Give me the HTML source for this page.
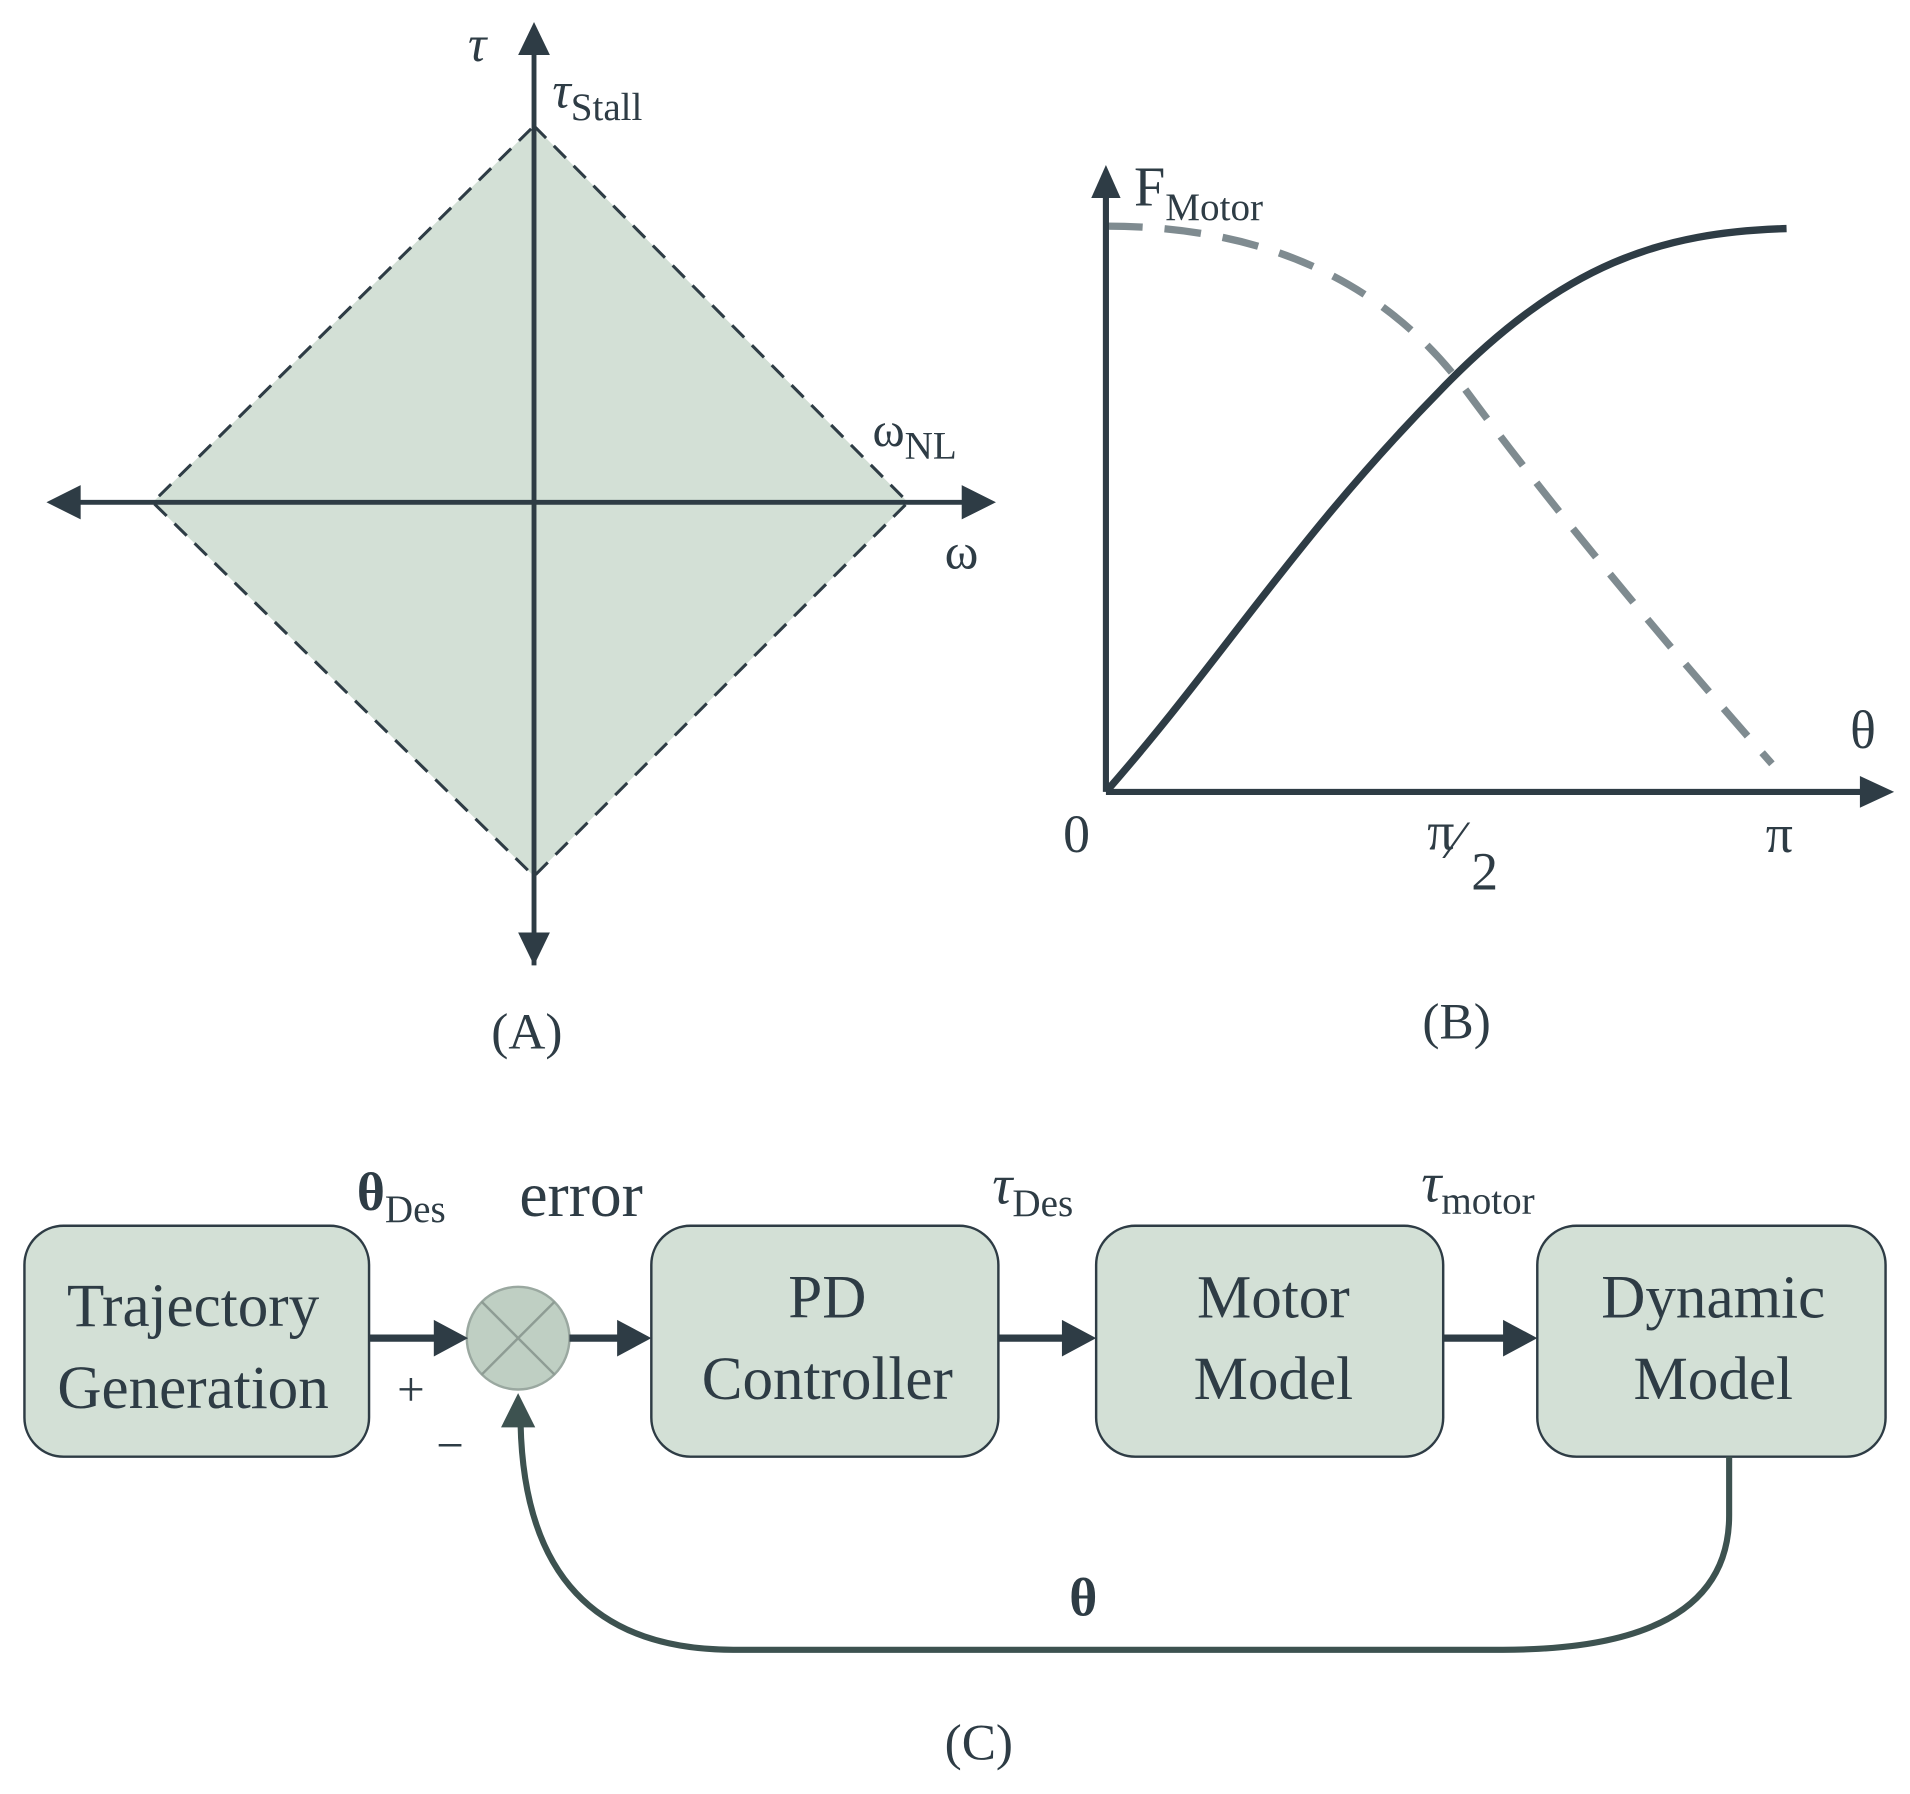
<!DOCTYPE html>
<html><head><meta charset="utf-8"><style>html,body{margin:0;padding:0;background:#fff}svg{display:block}</style></head>
<body>
<svg width="1910" height="1794" viewBox="0 0 1563 1468" xmlns="http://www.w3.org/2000/svg" font-family="Liberation Serif, serif" fill="#2e3c45">
<defs>
<marker id="ah" markerWidth="6" markerHeight="6" refX="3" refY="3" orient="auto" markerUnits="strokeWidth"><path d="M0,0 L6,3 L0,6 z" fill="#2e3c45"/></marker>
</defs>
<!-- Panel A -->
<polygon points="437,103 743,411 437,717 125,411" fill="#d3e0d6" stroke="#2e3c45" stroke-width="2.5" stroke-dasharray="14,9"/>
<line x1="437" y1="790" x2="437" y2="40" stroke="#2e3c45" stroke-width="4"/>
<polygon points="437,18 424,45 450,45" fill="#2e3c45"/>
<polygon points="437,790 424,763 450,763" fill="#2e3c45"/>
<line x1="60" y1="411" x2="795" y2="411" stroke="#2e3c45" stroke-width="4"/>
<polygon points="38,411 66,397 66,425" fill="#2e3c45"/>
<polygon points="815,411 787,397 787,425" fill="#2e3c45"/>
<text x="383" y="50" font-size="42" font-style="italic">τ</text>
<text x="452" y="88" font-size="42" font-style="italic">τ<tspan font-size="32" font-style="normal" dy="10">Stall</tspan></text>
<text x="714" y="365" font-size="40">ω<tspan font-size="32" dy="10">NL</tspan></text>
<text x="773" y="465" font-size="42">ω</text>
<text x="402" y="858" font-size="42">(A)</text>
<!-- Panel B -->
<path d="M905,185 Q1100,185 1200,320 T1450,625" fill="none" stroke="#7f8b90" stroke-width="6" stroke-dasharray="30,18"/>
<path id="sol" fill="none" stroke="#2e3c45" stroke-width="6" d="M905,648 C1000,540 1060,440 1180,318 C1280,215 1360,190 1462,187"/>
<line x1="905" y1="648" x2="905" y2="160" stroke="#2e3c45" stroke-width="5"/>
<polygon points="905,135 893,162 917,162" fill="#2e3c45"/>
<line x1="905" y1="648" x2="1525" y2="648" stroke="#2e3c45" stroke-width="5"/>
<polygon points="1550,648 1522,635 1522,661" fill="#2e3c45"/>
<text x="928" y="168" font-size="46">F<tspan font-size="32" dy="12">Motor</tspan></text>
<text x="1514" y="612" font-size="44">θ</text>
<text x="870" y="697" font-size="44">0</text>
<text x="1168" y="695" font-size="44">π</text>
<text x="1188" y="702" font-size="44">⁄</text>
<text x="1204" y="728" font-size="44">2</text>
<text x="1445" y="697" font-size="44">π</text>
<text x="1164" y="850" font-size="42">(B)</text>
<!-- Panel C -->
<g fill="#d3e0d6" stroke="#2e3c45" stroke-width="2">
<rect x="20" y="1003" width="282" height="189" rx="32"/>
<rect x="533" y="1003" width="284" height="189" rx="32"/>
<rect x="897" y="1003" width="284" height="189" rx="32"/>
<rect x="1258" y="1003" width="285" height="189" rx="32"/>
</g>
<circle cx="424" cy="1095" r="42" fill="#bfcfc3" stroke="#9aa8a0" stroke-width="2"/>
<line x1="394" y1="1065" x2="454" y2="1125" stroke="#8e9c94" stroke-width="2"/>
<line x1="454" y1="1065" x2="394" y2="1125" stroke="#8e9c94" stroke-width="2"/>
<g stroke="#2e3c45" stroke-width="6">
<line x1="302" y1="1095" x2="360" y2="1095"/>
<line x1="466" y1="1095" x2="510" y2="1095"/>
<line x1="817" y1="1095" x2="874" y2="1095"/>
<line x1="1181" y1="1095" x2="1235" y2="1095"/>
</g>
<g fill="#2e3c45">
<polygon points="383,1095 355,1080 355,1110"/>
<polygon points="533,1095 505,1080 505,1110"/>
<polygon points="897,1095 869,1080 869,1110"/>
<polygon points="1258,1095 1230,1080 1230,1110"/>
</g>
<path d="M1415,1192 L1415,1240 Q1415,1350 1230,1350 L600,1350 Q430,1350 426,1165" fill="none" stroke="#3d5250" stroke-width="5"/>
<polygon points="424,1140 410,1168 438,1168" fill="#3d5250"/>
<g font-size="50" text-anchor="middle">
<text x="158" y="1085">Trajectory</text>
<text x="158" y="1152">Generation</text>
<text x="677" y="1078">PD</text>
<text x="677" y="1145">Controller</text>
<text x="1042" y="1078">Motor</text>
<text x="1042" y="1145">Model</text>
<text x="1402" y="1078">Dynamic</text>
<text x="1402" y="1145">Model</text>
</g>
<text x="292" y="990" font-size="44" font-weight="bold">θ<tspan font-size="32" font-weight="normal" dy="10">Des</tspan></text>
<text x="425" y="995" font-size="52">error</text>
<text x="812" y="985" font-size="46" font-style="italic">τ<tspan font-size="32" font-style="normal" dy="10">Des</tspan></text>
<text x="1163" y="983" font-size="46" font-style="italic">τ<tspan font-size="32" font-style="normal" dy="10">motor</tspan></text>
<text x="325" y="1150" font-size="40">+</text>
<text x="357" y="1196" font-size="40">−</text>
<text x="875" y="1322" font-size="44" font-weight="bold">θ</text>
<text x="773" y="1440" font-size="42">(C)</text>
</svg>
</body></html>
